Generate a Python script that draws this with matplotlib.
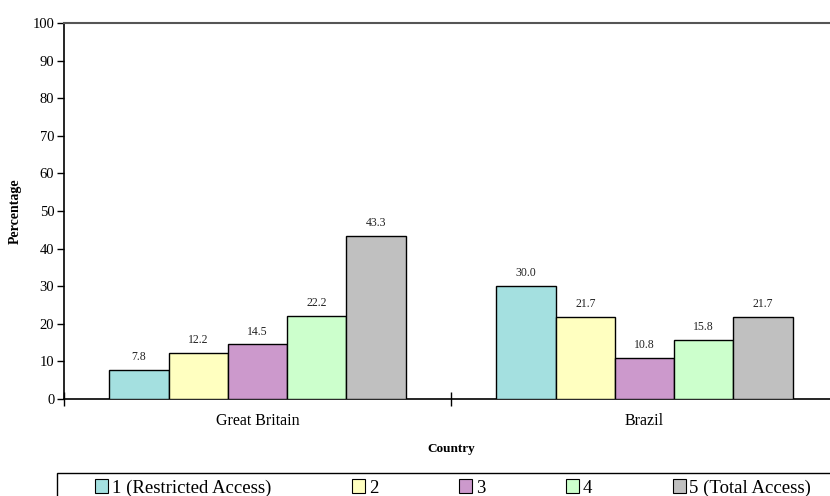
import matplotlib
matplotlib.use("Agg")
import matplotlib.pyplot as plt
from matplotlib.patches import Patch, Rectangle
import numpy as np

plt.rcParams['font.family'] = ['Liberation Serif', 'DejaVu Serif']

countries = ["Great Britain", "Brazil"]
series_names = ["1 (Restricted Access)", "2", "3", "4", "5 (Total Access)"]
values_1 = [7.8, 30.0]
values_2 = [12.2, 21.7]
values_3 = [14.5, 10.8]
values_4 = [22.2, 15.8]
values_5 = [43.3, 21.7]
series_values = [values_1, values_2, values_3, values_4, values_5]
colors = ["#A4E0E0", "#FFFFC0", "#CC99CC", "#CCFFCC", "#C0C0C0"]
y_ticks = [0, 10, 20, 30, 40, 50, 60, 70, 80, 90, 100]

W, H = 830, 496
fig = plt.figure(figsize=(W / 100, H / 100), dpi=100)
ax = fig.add_axes([64 / W, (H - 399) / H, (838 - 64) / W, 376 / H])

x = np.arange(len(countries))
bw = 0.153
n = len(series_names)
for i, (vals, col) in enumerate(zip(series_values, colors)):
    pos = x + (i - (n - 1) / 2) * bw
    bars = ax.bar(pos, vals, width=bw, color=col, edgecolor='black', linewidth=1.0, zorder=3)
    for b, v in zip(bars, vals):
        ax.annotate(f"{v:.1f}", (b.get_x() + b.get_width() / 2, b.get_height()),
                    xytext=(0, 5), textcoords='offset points', ha='center', va='bottom',
                    fontsize=8.5, color='#222222')

ax.set_xlim(-0.5, len(countries) - 0.5)
ax.set_ylim(0, 100)
ax.set_yticks(y_ticks)
ax.tick_params(axis='y', direction='out', length=5, width=1, labelsize=10.5, pad=2, colors='black')

ax.set_xticks([-0.5, 0.5])
ax.set_xticklabels([])
ax.tick_params(axis='x', which='major', direction='inout', length=10, width=1)
ax.set_xticks(x, minor=True)
ax.set_xticklabels(countries, minor=True, fontsize=11.5)
ax.tick_params(axis='x', which='minor', length=0, pad=10)

ax.spines['right'].set_visible(False)
ax.spines['top'].set_color('#555555')
ax.spines['top'].set_linewidth(1.5)
ax.spines['left'].set_linewidth(1.2)
ax.spines['bottom'].set_linewidth(1.2)

fig.text(15 / W, 1 - 211 / H, "Percentage", rotation=90, ha='center', va='center',
         fontsize=10, fontweight='bold')
fig.text(451 / W, 1 - 449 / H, "Country", ha='center', va='center',
         fontsize=9.5, fontweight='bold')

# legend frame
fig.patches.append(Rectangle((57 / W, -0.05), 1.0, (H - 473) / H + 0.05,
                             transform=fig.transFigure, fill=False, edgecolor='black',
                             linewidth=1.0))
handles = [Patch(facecolor=c, edgecolor='black', linewidth=0.8) for c in colors]
leg = fig.legend(handles, series_names, ncol=5, loc='center left',
                 bbox_to_anchor=(95 / W, 1 - 488 / H), frameon=False,
                 fontsize=13.5, handlelength=0.7, handleheight=0.7,
                 handletextpad=0.2, columnspacing=4.3, borderpad=0, borderaxespad=0)

fig.savefig("out.png", dpi=100)
